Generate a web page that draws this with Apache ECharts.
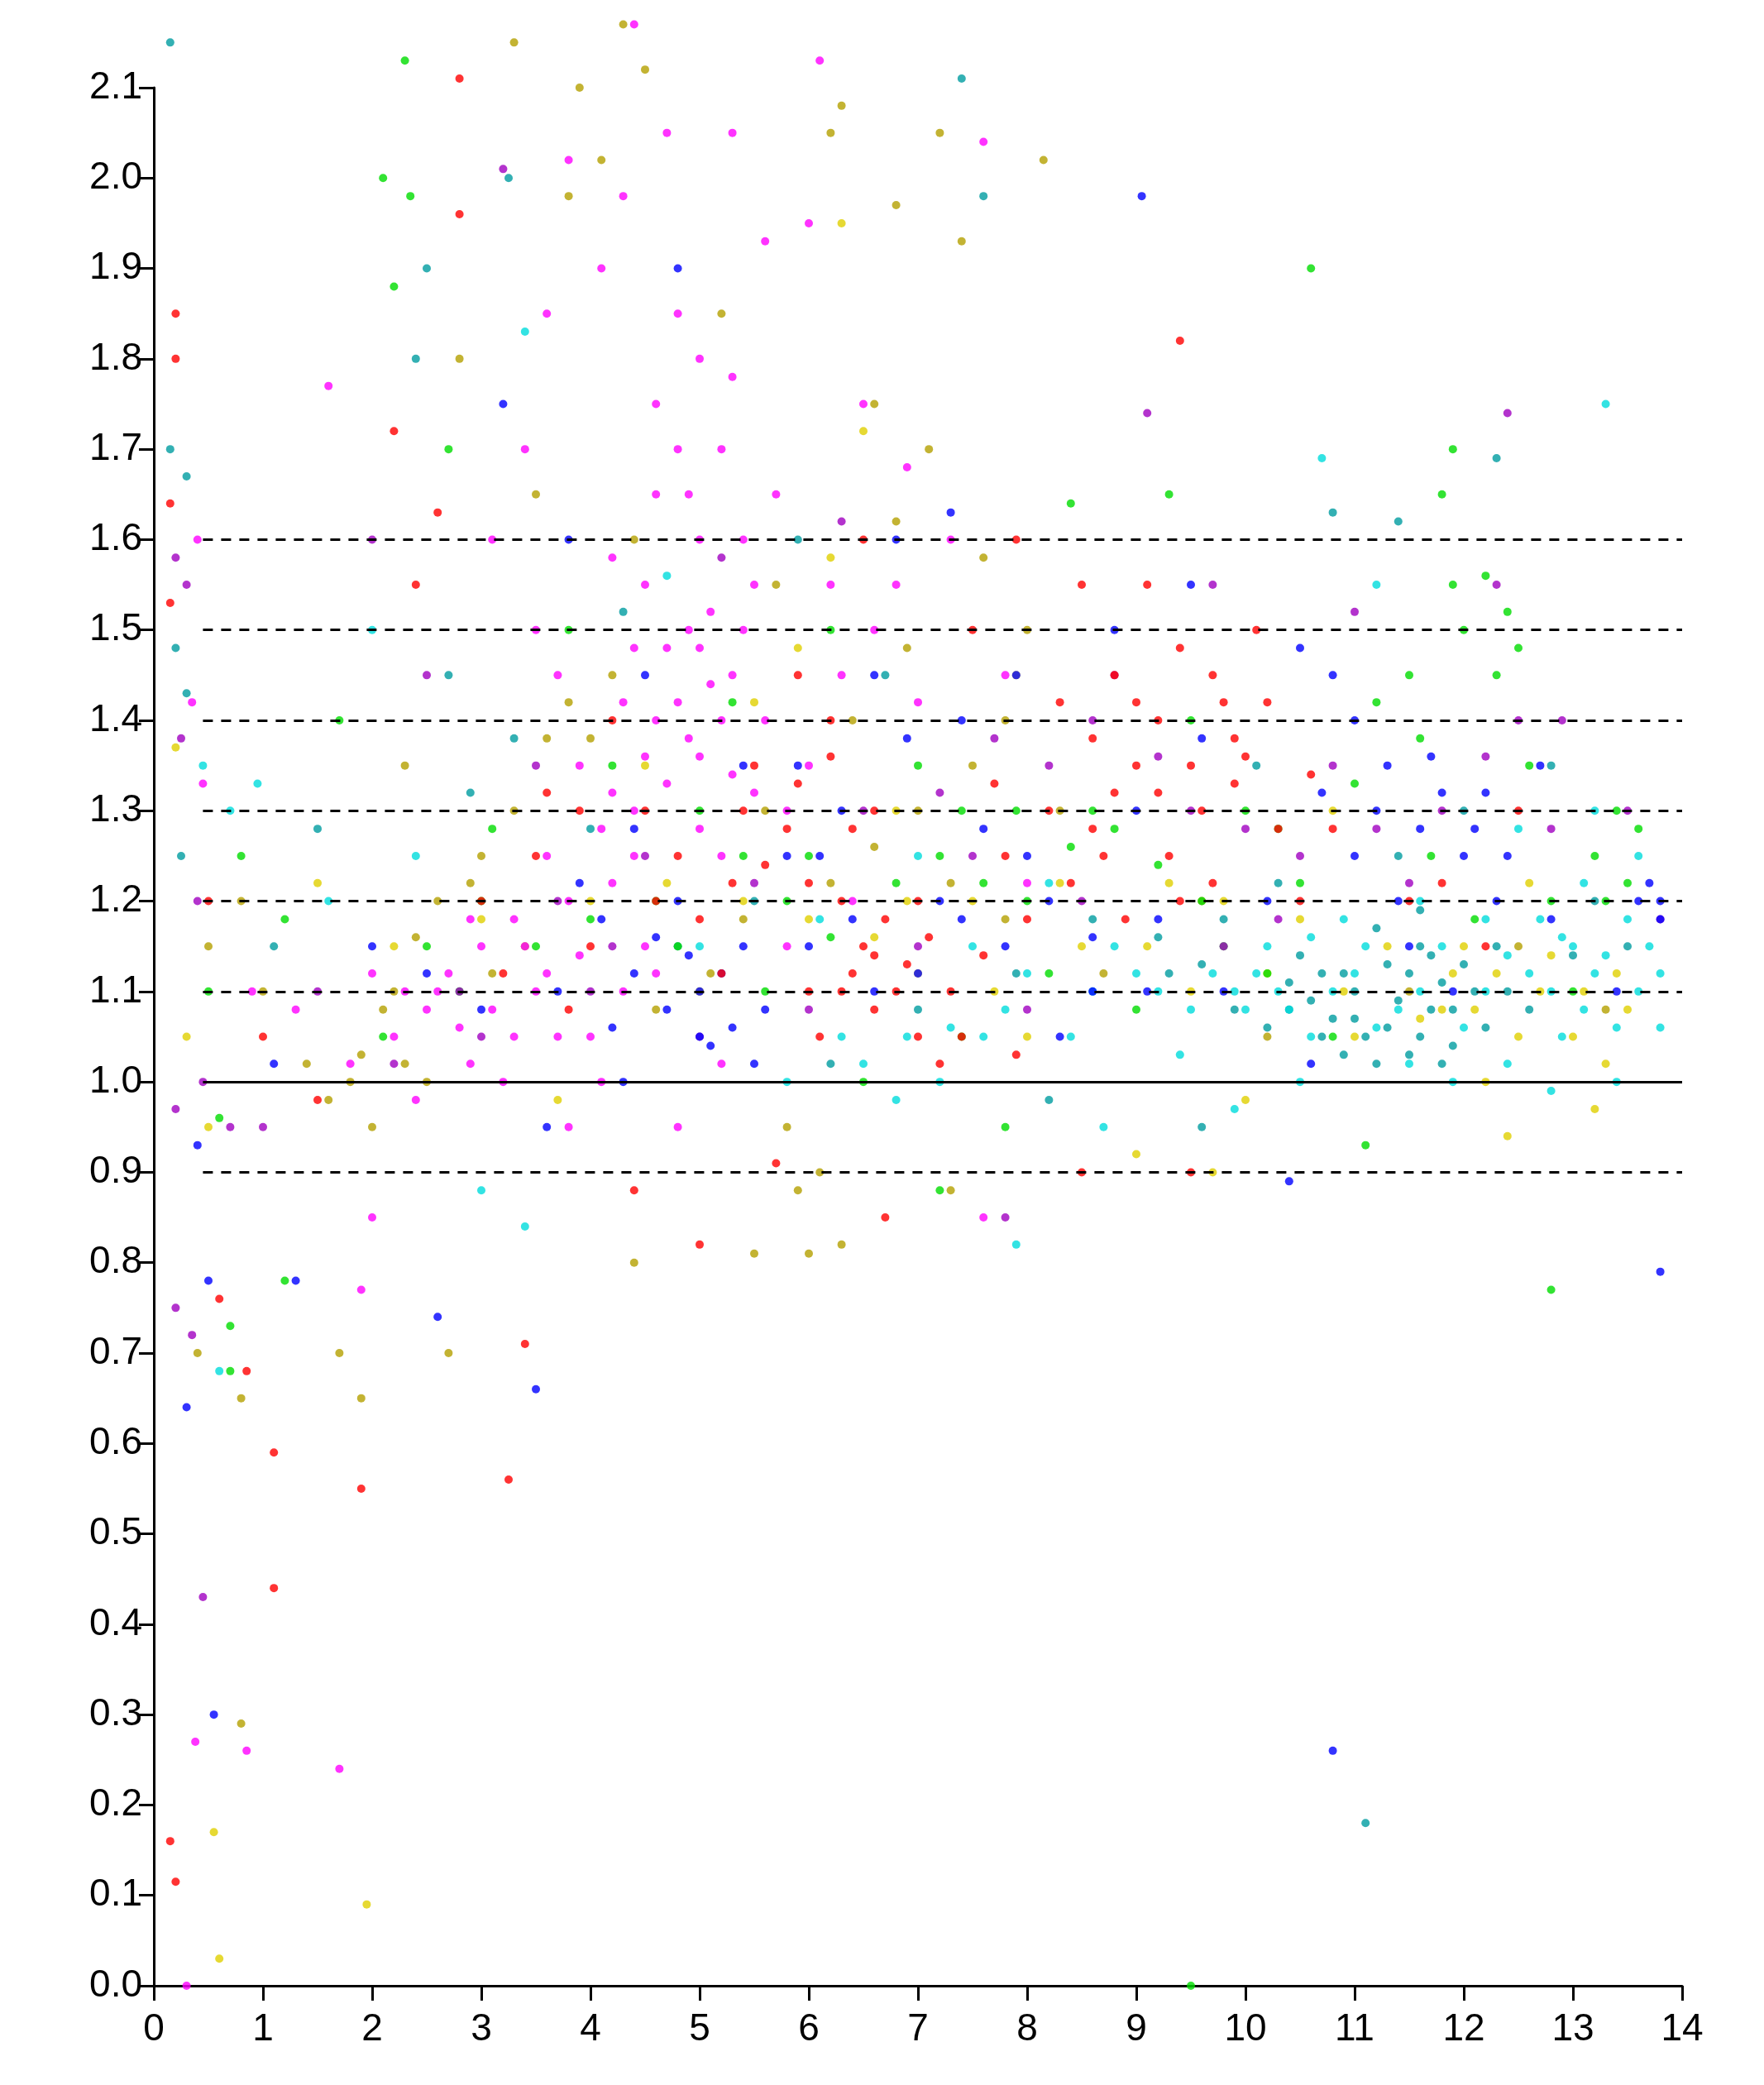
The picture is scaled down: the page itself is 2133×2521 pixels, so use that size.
<!DOCTYPE html>
<html>
<head>
<meta charset="utf-8">
<script src="https://cdn.jsdelivr.net/npm/echarts@6/dist/echarts.min.js"></script>
<style>html,body{margin:0;padding:0;background:#fff}#main{width:2133px;height:2521px}</style>
</head>
<body>
<div id="main"></div>
<script>
// 각 색 그룹의 점 (x, y)
var redPts = [[0.15,0.16],[0.2,0.115],[0.2,1.85],[0.2,1.8],[0.15,1.64],[0.15,1.53],[1.1,0.59],[1.1,0.44],[1.9,0.55],[3.25,0.56],[2.8,2.11],[2.8,1.96],[9.4,1.82],[6.7,0.85],[0.85,0.68],[0.6,0.76],[3.4,0.71],[3,1.2],[3.5,1.25],[4,1.15],[4.5,1.3],[5,1.18],[5.5,1.35],[6,1.22],[6.3,1.1],[6.6,1.14],[7,1.2],[7.4,1.05],[7.8,1.25],[8.2,1.3],[8.6,1.38],[8.8,1.45],[9,1.35],[9.2,1.4],[9.4,1.48],[9.6,1.3],[9.8,1.42],[10,1.36],[10.1,1.5],[9.3,1.25],[8.4,1.22],[8.9,1.18],[9.1,1.55],[10.3,1.28],[5.9,1.45],[6.4,1.28],[6.8,1.1],[7.2,1.02],[6.1,1.05],[5.2,1.12],[4.2,1.4],[3.8,1.08],[2.6,1.63],[2.4,1.55],[6.5,1.6],[7.5,1.5],[7.9,1.6],[8.5,1.55],[11.5,1.2],[12.5,1.3],[9.5,0.9],[8.5,0.9],[5,0.82],[4.4,0.88],[1,1.05],[0.5,1.2],[1.5,0.98],[2.2,1.72],[5.7,0.91],[10.5,1.2],[9.7,1.22],[7.7,1.33],[8.3,1.42],[9.9,1.33],[6.2,1.36],
  [6.4,1.12],[6.5,1.15],[6.6,1.08],[6.7,1.18],[6.9,1.13],[7.1,1.16],[6.3,1.2],[6,1.1],[5.8,1.28],[5.6,1.24],[5.4,1.3],[5.9,1.33],[6.2,1.4],[6.6,1.3],[7.3,1.1],[7.6,1.14],[8,1.18],[8.7,1.25],[9.2,1.32],[9.5,1.35],[9.9,1.38],[10.2,1.42],[9.7,1.45],[9,1.42],[8.8,1.32],[9.4,1.2],[8.6,1.28],[4.6,1.2],[4.8,1.25],[3.6,1.32],[3.2,1.12],[3.9,1.3],[5.3,1.22],[7.9,1.03],[7,1.05],[10.6,1.34],[10.8,1.28],[11.8,1.22],[12.2,1.15]];
var magentaPts = [[4.8,1.85],[5,1.8],[4.6,1.75],[5.2,1.7],[4.9,1.65],[5.4,1.6],[4.5,1.55],[5.1,1.52],[4.7,1.48],[5.3,1.45],[4.3,1.42],[5.6,1.4],[4.9,1.38],[3.9,1.35],[5.5,1.32],[4.4,1.3],[5.8,1.3],[3.6,1.25],[4.2,1.22],[5,1.28],[3.3,1.18],[3,1.15],[2.7,1.12],[2.5,1.08],[2.2,1.05],[2.9,1.02],[3.5,1.1],[4,1.05],[4.6,1.12],[3.2,1],[3.8,0.95],[2.4,0.98],[6.1,2.13],[4.4,2.17],[4.7,2.05],[5.3,2.05],[4.3,1.98],[3.8,2.02],[6,1.95],[5.6,1.93],[4.1,1.9],[3.6,1.85],[6.5,1.75],[6.9,1.68],[7.6,2.04],[7.3,1.6],[1.6,1.77],[0.4,1.6],[0.35,1.42],[0.45,1.33],[1.7,0.24],[0.85,0.26],[0.38,0.27],[0.9,1.1],[1.3,1.08],[1.8,1.02],[2,0.85],[1.9,0.77],[0.3,0.0],[6.2,1.55],[6.6,1.5],[7,1.42],[7.8,1.45],[8,1.22],[5.8,1.15],[5.2,1.02],[4.8,0.95],[6.4,1.2],[3.1,1.6],[3.4,1.7],[7.6,0.85],
  [5,1.48],[5.1,1.44],[4.9,1.5],[5.2,1.4],[4.8,1.42],[5,1.36],[5.3,1.34],[4.7,1.33],[4.5,1.36],[4.6,1.4],[5.4,1.5],[4.4,1.48],[5.5,1.55],[4.2,1.32],[4.1,1.28],[3.8,1.2],[3.4,1.15],[3.1,1.08],[2.8,1.06],[2.6,1.1],[3.3,1.05],[3.6,1.12],[3.9,1.14],[4.3,1.1],[4.5,1.15],[2.3,1.1],[2,1.12],[2.9,1.18],[3.7,1.05],[4.1,1.0],[5.3,1.78],[4.6,1.65],[5,1.6],[4.8,1.7],[5.7,1.65],[3.7,1.45],[3.5,1.5],[4.2,1.58],[4.4,1.25],[5.2,1.25],[6,1.35],[6.3,1.45],[6.8,1.55]];
var bluePts = [[0.3,0.64],[0.55,0.3],[0.4,0.93],[0.5,0.78],[1.3,0.78],[3.5,0.66],[2.6,0.74],[9.05,1.98],[13.8,0.79],[10.8,0.26],[10.4,0.89],[4.8,1.9],[7.3,1.63],[3.2,1.75],[3.8,1.6],[4.5,1.45],[5,1.05],[5.2,1.12],[4.7,1.08],[5.5,1.02],[4.1,1.18],[6,1.15],[6.6,1.1],[7.2,1.2],[7.6,1.28],[8,1.25],[8.6,1.1],[9,1.3],[9.6,1.38],[9.5,1.55],[10.5,1.48],[11,1.4],[11.3,1.35],[11.6,1.28],[11.8,1.32],[12,1.25],[12.3,1.2],[11.5,1.15],[12.8,1.18],[13.8,1.2],[13.7,1.22],[13.4,1.1],[10.8,1.45],[10.2,1.2],[9.8,1.1],[8.3,1.05],[7.9,1.45],[6.9,1.38],[6.3,1.3],[5.8,1.25],[3,1.08],[2.5,1.12],[3.6,0.95],[4.3,1],[2,1.15],[1.1,1.02],[6.8,1.6],[7.4,1.4],[8.8,1.5],[9.2,1.18],[5.4,1.35],[4.4,1.28],[3.9,1.22],[12.7,1.35],[11.9,1.1],[10.6,1.02],[12.2,1.32],
  [5.1,1.04],[5.3,1.06],[5,1.1],[4.9,1.14],[4.6,1.16],[4.8,1.2],[5.4,1.15],[5.6,1.08],[4.4,1.12],[4.2,1.06],[3.7,1.1],[7,1.12],[7.4,1.18],[7.8,1.15],[8.2,1.2],[8.6,1.16],[9.1,1.1],[11.2,1.3],[11.4,1.2],[11.7,1.36],[12.1,1.28],[12.4,1.25],[11,1.25],[10.7,1.32],[13.8,1.18],[13.6,1.2],[6.4,1.18],[6.1,1.25],[5.9,1.35],[6.6,1.45]];
var greenPts = [[2.3,2.13],[2.1,2],[2.35,1.98],[2.2,1.88],[10.6,1.9],[11.9,1.7],[11.8,1.65],[0.7,0.73],[0.7,0.68],[1.2,0.78],[9.5,0.0],[12.8,0.77],[2.7,1.7],[3.8,1.5],[5,1.3],[6,1.25],[7,1.35],[8,1.2],[8.8,1.28],[9.5,1.4],[10,1.3],[10.5,1.22],[11,1.33],[11.5,1.45],[12,1.5],[12.2,1.56],[12.5,1.48],[13.2,1.25],[13.4,1.3],[13.5,1.22],[12.8,1.2],[11.7,1.25],[10.8,1.05],[9.8,1.15],[9,1.08],[8.2,1.12],[7.4,1.05],[6.5,1.0],[5.6,1.1],[4.6,1.2],[3.5,1.15],[2.8,1.1],[2.1,1.05],[1.2,1.18],[0.8,1.25],[0.6,0.96],[0.5,1.1],[1.7,1.4],[7.8,0.95],[7.2,0.88],[8.4,1.64],[9.3,1.65],[6.2,1.5],[5.3,1.42],[4.2,1.35],[3.1,1.28],[11.1,0.93],[12.1,1.18],[10.2,1.12],[13,1.1],
  [5.8,1.2],[6.2,1.16],[6.8,1.22],[7.2,1.25],[7.6,1.22],[8.4,1.26],[8.6,1.3],[9.2,1.24],[9.6,1.2],[10.3,1.28],[11.2,1.42],[11.6,1.38],[12.3,1.45],[12.6,1.35],[13.3,1.2],[13.6,1.28],[12.4,1.52],[11.9,1.55],[4.8,1.15],[5.4,1.25],[4,1.18],[3,1.2],[2.5,1.15],[7.9,1.3],[7.4,1.3]];
var cyanPts = [[7.9,0.82],[0.6,0.68],[10.7,1.69],[13.3,1.75],[11.2,1.55],[0.45,1.35],[0.7,1.3],[0.95,1.33],[2,1.5],[3.4,1.83],[4.7,1.56],[10,1.08],[10.3,1.1],[10.6,1.05],[11,1.12],[11.4,1.08],[11.8,1.15],[12.2,1.1],[12.6,1.12],[13,1.15],[13.2,1.12],[13.6,1.1],[13.8,1.06],[13.5,1.18],[12.9,1.05],[12.4,1.02],[11.9,1.0],[10.9,1.18],[10.2,1.15],[9.7,1.12],[9.2,1.1],[8.8,1.15],[8.4,1.05],[7.8,1.08],[7.2,1.0],[6.8,0.98],[6.3,1.05],[5.8,1.0],[7.5,1.15],[8.2,1.22],[9.4,1.03],[9.9,0.97],[10.5,1.0],[11.5,1.02],[12.8,0.99],[13.2,1.3],[13.6,1.25],[12.5,1.28],[11.6,1.2],[3,0.88],[3.4,0.84],[1.6,1.2],[2.4,1.25],[5,1.15],[6.1,1.18],[7,1.25],[8.7,0.95],[13.4,1.0],
  [10.1,1.12],[10.4,1.08],[10.8,1.1],[11.2,1.06],[11.6,1.1],[12,1.06],[12.4,1.14],[12.8,1.1],[13.1,1.08],[13.3,1.14],[13.7,1.15],[13.4,1.06],[12.9,1.16],[12.2,1.18],[11.1,1.15],[10.6,1.16],[9.9,1.1],[9.5,1.08],[9,1.12],[8.6,1.1],[8,1.12],[7.6,1.05],[7.3,1.06],[6.9,1.05],[6.5,1.02],[13.8,1.12],[13.1,1.22],[12.7,1.18]];
var tealPts = [[0.15,2.15],[0.15,1.7],[0.3,1.67],[0.2,1.48],[0.3,1.43],[0.25,1.25],[7.4,2.11],[7.6,1.98],[3.25,2.0],[2.5,1.9],[2.4,1.8],[11.1,0.18],[12.3,1.69],[10.8,1.63],[11.4,1.62],[10.4,1.08],[10.7,1.05],[11,1.1],[11.3,1.06],[11.5,1.12],[11.7,1.08],[11.9,1.04],[12.1,1.1],[11.6,1.15],[11.2,1.02],[10.9,1.12],[10.5,1.14],[12.3,1.15],[12.6,1.08],[13,1.14],[13.2,1.2],[12,1.3],[11.4,1.25],[10.3,1.22],[9.8,1.18],[9.3,1.12],[8.6,1.18],[7.9,1.12],[7,1.08],[6.2,1.02],[5.5,1.2],[4.8,1.15],[4,1.28],[3.3,1.38],[2.7,1.45],[2.9,1.32],[6.7,1.45],[5.9,1.6],[4.3,1.52],[1.1,1.15],[1.5,1.28],[9.6,0.95],[8.2,0.98],[12.8,1.35],[13.5,1.15],[10.1,1.35],
  [10.6,1.09],[10.8,1.07],[11.1,1.05],[11.4,1.09],[11.6,1.05],[11.8,1.11],[11.5,1.03],[11.3,1.13],[11,1.07],[10.7,1.12],[10.4,1.11],[11.7,1.14],[11.9,1.08],[12.2,1.06],[12.4,1.1],[11.2,1.17],[10.9,1.03],[11.6,1.19],[11.8,1.02],[12,1.13],[10.2,1.06],[9.9,1.08],[9.6,1.13],[9.2,1.16]];
var olivePts = [[4.2,2.22],[4.3,2.17],[4.5,2.12],[3.9,2.1],[3.3,2.15],[4.1,2.02],[6.3,2.08],[6.2,2.05],[7.2,2.05],[7.4,1.93],[8.15,2.02],[6.8,1.97],[3.8,1.98],[5.2,1.85],[6.6,1.75],[7.1,1.7],[2.8,1.8],[3.5,1.65],[4.4,1.6],[5.7,1.55],[6.4,1.4],[7.5,1.35],[8.3,1.3],[3,1.25],[2.6,1.2],[2.2,1.1],[1.8,1.0],[1.6,0.98],[1.4,1.02],[2,0.95],[2.5,1.0],[3.4,1.15],[4.6,1.08],[5.8,0.95],[6.1,0.9],[5.9,0.88],[7.3,0.88],[0.8,0.29],[1.9,0.65],[1.7,0.7],[2.7,0.7],[0.8,0.65],[0.4,0.7],[4.4,0.8],[6.3,0.82],[6,0.81],[5.5,0.81],[7.8,1.18],[8.7,1.12],[9.6,1.2],[10.2,1.05],[11.5,1.1],[12.5,1.15],[13.3,1.08],[0.8,1.2],[0.5,1.15],[1,1.1],[2.3,1.35],
  [3.8,1.42],[4,1.38],[4.2,1.45],[3.6,1.38],[3.3,1.3],[2.9,1.22],[2.4,1.16],[2.1,1.08],[1.9,1.03],[2.3,1.02],[3.1,1.12],[5.1,1.12],[5.4,1.18],[6.2,1.22],[6.6,1.26],[7,1.3],[7.3,1.22],[7.8,1.4],[8,1.5],[7.6,1.58],[6.8,1.62],[6.9,1.48],[5.6,1.3]];
var purplePts = [[0.2,1.58],[0.3,1.55],[0.25,1.38],[0.4,1.2],[0.45,1.0],[0.2,0.97],[0.45,0.43],[0.35,0.72],[0.2,0.75],[9.1,1.74],[12.4,1.74],[7.8,0.85],[3.2,2.01],[2,1.6],[2.5,1.45],[3.5,1.35],[4.5,1.25],[5.5,1.22],[6.5,1.3],[7.5,1.25],[8.5,1.2],[9.5,1.3],[10.5,1.25],[11.5,1.22],[12.5,1.4],[12.3,1.55],[11,1.52],[12.9,1.4],[13.5,1.3],[13.8,1.18],[10.8,1.35],[9.8,1.15],[8,1.08],[7,1.15],[6,1.08],[5,1.05],[4,1.1],[3,1.05],[1.5,1.1],[1,0.95],[0.7,0.95],[8.8,1.45],[9.7,1.55],[6.3,1.62],[5.2,1.58],
  [7.2,1.32],[7.7,1.38],[8.2,1.35],[8.6,1.4],[9.2,1.36],[10,1.28],[10.3,1.18],[11.2,1.28],[11.8,1.3],[12.2,1.36],[12.8,1.28],[3.7,1.2],[4.2,1.15],[2.8,1.1],[2.2,1.02]];
var yellowPts = [[0.6,0.03],[0.55,0.17],[1.95,0.09],[0.2,1.37],[0.3,1.05],[0.5,0.95],[6.3,1.95],[6.5,1.72],[5.5,1.42],[6.8,1.3],[7.5,1.2],[8.5,1.15],[9,0.92],[9.7,0.9],[10,0.98],[11,1.05],[11.8,1.08],[12.2,1.0],[12.4,0.94],[12.7,1.1],[13,1.05],[13.3,1.02],[13.5,1.08],[13.2,0.97],[12,1.15],[11.3,1.15],[10.5,1.18],[9.5,1.1],[8,1.05],[7,1.12],[6,1.18],[5,1.1],[4,1.2],[3,1.18],[2.2,1.15],[1.5,1.22],[3.7,0.98],[4.5,1.35],[5.9,1.48],[6.2,1.58],[7.9,1.45],[9.3,1.22],[10.8,1.3],[12.6,1.22],
  [12.1,1.08],[12.3,1.12],[12.5,1.05],[12.8,1.14],[13.1,1.1],[13.4,1.12],[11.9,1.12],[11.6,1.07],[10.9,1.1],[10.2,1.12],[9.8,1.2],[9.1,1.15],[8.3,1.22],[7.7,1.1],[6.6,1.16],[5.4,1.2],[4.7,1.22],[6.9,1.2]];
var dashedLevels = [0.9, 1.1, 1.2, 1.3, 1.4, 1.5, 1.6];
var solidLevel = 1.0;

var groups = [
  {data: olivePts, color: '#b4a000'},
  {data: tealPts, color: '#009ca0'},
  {data: yellowPts, color: '#e0d000'},
  {data: cyanPts, color: '#00dcdc'},
  {data: greenPts, color: '#00dc00'},
  {data: purplePts, color: '#a000c0'},
  {data: bluePts, color: '#0000ff'},
  {data: redPts, color: '#ff0000'},
  {data: magentaPts, color: '#ff00ff'}
];

var series = groups.map(function (g) {
  return {type: 'scatter', data: g.data, symbolSize: 10, clip: false,
    itemStyle: {color: g.color}, silent: true, animation: false};
});

var lines = dashedLevels.map(function (v) {
  return [{coord: [0.45, v], lineStyle: {type: [12, 10]}}, {coord: [14, v]}];
});
lines.push([{coord: [0.45, solidLevel], lineStyle: {type: 'solid'}}, {coord: [14, solidLevel]}]);
series.push({type: 'scatter', data: [], markLine: {silent: true, symbol: 'none', animation: false,
  label: {show: false}, lineStyle: {color: '#000', width: 3}, data: lines}});

var chart = echarts.init(document.getElementById('main'));
chart.setOption({
  backgroundColor: '#fff',
  animation: false,
  grid: {left: 186, right: 99, top: 106, bottom: 120},
  xAxis: {type: 'value', min: 0, max: 14, interval: 1, splitLine: {show: false},
    axisLine: {lineStyle: {color: '#000', width: 3}},
    axisTick: {lineStyle: {color: '#000', width: 3}, length: 18},
    axisLabel: {color: '#000', fontSize: 46, fontFamily: 'Liberation Sans', margin: 30}},
  yAxis: {type: 'value', min: 0, max: 2.1, interval: 0.1, splitLine: {show: false},
    axisLine: {show: true, lineStyle: {color: '#000', width: 3}},
    axisTick: {show: true, lineStyle: {color: '#000', width: 3}, length: 18},
    axisLabel: {color: '#000', fontSize: 46, fontFamily: 'Liberation Sans', margin: 14,
      formatter: function (v) { return v.toFixed(1); }}},
  series: series
});
</script>
</body>
</html>
